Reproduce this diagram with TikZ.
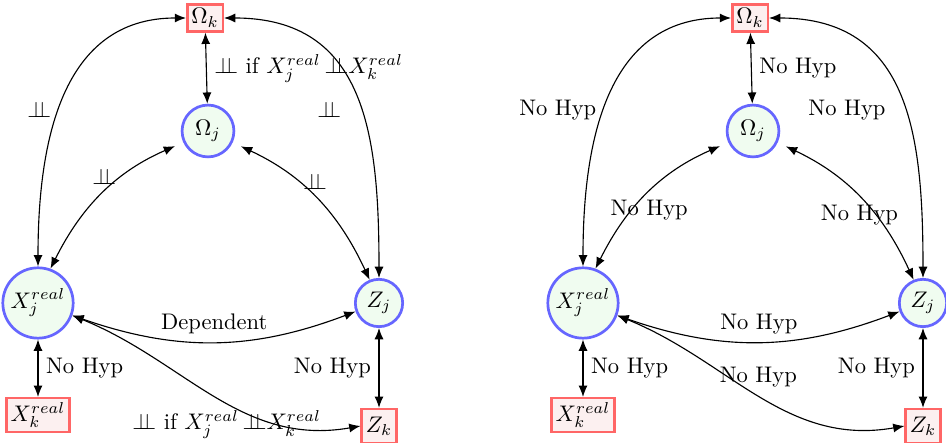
\documentclass[tikz,border=0pt]{standalone}
\usepackage{amsmath}
\usepackage{tikz}
\usetikzlibrary{arrows.meta}
\definecolor{nodeBlue}{rgb}{0.4, 0.4, 1.0}
\definecolor{nodeGreen}{rgb}{0.94, 0.99, 0.94}
\definecolor{boxRed}{rgb}{1.0, 0.4, 0.4}
\definecolor{boxPink}{rgb}{0.99, 0.94, 0.94}
\newcommand{\indep}{\perp\!\!\!\perp}
\tikzset{
  latent/.style={circle, draw=nodeBlue, fill=nodeGreen, line width=1.2pt, inner sep=1.5pt, minimum size=21pt},
  observed/.style={rectangle, draw=boxRed, fill=boxPink, line width=1.1pt, inner sep=1.8pt},
  link/.style={{Latex[length=5pt,width=4pt]}-{Latex[length=5pt,width=4pt]}, line width=0.5pt},
}

\begin{document}
\begin{tikzpicture}[x=0.0156cm, y=0.0156cm]
        \useasboundingbox (0,0) rectangle (946,443);

        % left graph
        \node[observed] (okL) at (205,425) {$\Omega_k$};
        \node[latent, minimum size=23pt] (ojL) at (208,312) {$\Omega_j$};
        \node[latent] (xjL) at (38,140) {$X_j^{real}$};
        \node[latent] (zjL) at (379,140) {$Z_j$};
        \node[observed] (xkL) at (38,28) {$X_k^{real}$};
        \node[observed, minimum height=15pt] (zkL) at (379,17) {$Z_k$};

        \draw[link] (okL) -- node[right] {$\indep$ if $X_j^{real}\,{\indep}X_k^{real}$} (ojL);
        \draw[link] (okL.west) to[out=180, in=90, looseness=1.1] node[pos=0.55, left] {$\indep$} (xjL.north);
        \draw[link] (okL.east) to[out=0, in=90, looseness=1.2] node[pos=0.55, left=5pt] {$\indep$} (zjL.north);
        \draw[link, shorten <=4pt] (ojL.205) to[bend right=20] node[above] {$\indep$} (xjL.70);
        \draw[link, shorten <=4pt] (ojL.-25) to[bend left=20] node[above] {$\indep$} (zjL.112);
        \draw[link] (xjL.-20) to[bend right=20] node[above] {Dependent} (zjL.200);
        \draw[link] (xjL.-20) to[out=-22, in=190] node[pos=0.55, below] {$\indep$ if $X_j^{real}\,{\indep}X_k^{real}$} (zkL.west);
        \draw[link] (xjL) -- node[right] {No Hyp} (xkL);
        \draw[link] (zjL) -- node[left] {No Hyp} (zkL);

        % right graph
        \node[observed] (okR) at (750,425) {$\Omega_k$};
        \node[latent, minimum size=23pt] (ojR) at (753,312) {$\Omega_j$};
        \node[latent] (xjR) at (583,140) {$X_j^{real}$};
        \node[latent] (zjR) at (923,140) {$Z_j$};
        \node[observed] (xkR) at (583,28) {$X_k^{real}$};
        \node[observed, minimum height=15pt] (zkR) at (923,17) {$Z_k$};

        \draw[link] (okR) -- node[right] {No Hyp} (ojR);
        \draw[link] (okR.west) to[out=180, in=90, looseness=1.1] node[pos=0.55, left] {No Hyp} (xjR.north);
        \draw[link] (okR.east) to[out=0, in=90, looseness=1.2] node[pos=0.55, left=5pt] {No Hyp} (zjR.north);
        \draw[link, shorten <=4pt] (ojR.205) to[bend right=20] node[below] {No Hyp} (xjR.70);
        \draw[link, shorten <=4pt] (ojR.-25) to[bend left=20] node[below] {No Hyp} (zjR.112);
        \draw[link] (xjR.-20) to[bend right=20] node[above] {No Hyp} (zjR.200);
        \draw[link] (xjR.-20) to[out=-22, in=190] node[pos=0.5, above] {No Hyp} (zkR.west);
        \draw[link] (xjR) -- node[right] {No Hyp} (xkR);
        \draw[link] (zjR) -- node[left] {No Hyp} (zkR);

    \end{tikzpicture}
\end{document}
